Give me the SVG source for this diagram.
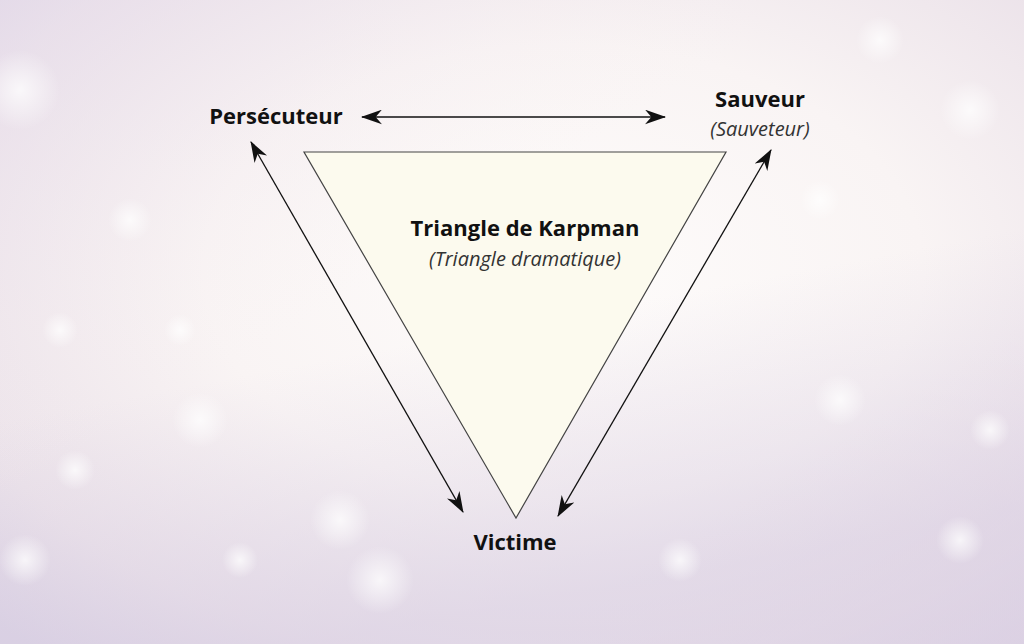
<svg xmlns="http://www.w3.org/2000/svg" width="1024" height="644" viewBox="0 0 1024 644">
<defs>
<radialGradient id="bg" cx="0.55" cy="0.42" r="0.78">
<stop offset="0" stop-color="#fefcfb"/>
<stop offset="0.45" stop-color="#f9f4f4"/>
<stop offset="0.8" stop-color="#ece3ea"/>
<stop offset="1" stop-color="#dcd3e4"/>
</radialGradient>
<linearGradient id="tint" x1="0" y1="0" x2="1" y2="1">
<stop offset="0" stop-color="#e4daea" stop-opacity="0.6"/>
<stop offset="0.4" stop-color="#f6eef0" stop-opacity="0"/>
<stop offset="0.75" stop-color="#f3e6ea" stop-opacity="0"/>
<stop offset="1" stop-color="#e3d6e4" stop-opacity="0.6"/>
</linearGradient>
<linearGradient id="tint2" x1="0" y1="0" x2="0.3" y2="1">
<stop offset="0.6" stop-color="#d6cce2" stop-opacity="0"/>
<stop offset="1" stop-color="#d6cce2" stop-opacity="0.55"/>
</linearGradient>
<radialGradient id="bokeh">
<stop offset="0" stop-color="#ffffff" stop-opacity="0.75"/>
<stop offset="1" stop-color="#ffffff" stop-opacity="0"/>
</radialGradient>
<marker id="ah" viewBox="0 0 20 14" refX="19" refY="7" markerWidth="21" markerHeight="15" markerUnits="userSpaceOnUse" orient="auto-start-reverse">
<path d="M0,0 L20,7 L0,14 L6,7 Z" fill="#111"/>
</marker>
<style>
.lbl{font-family:"Open Sans","Noto Sans","Liberation Sans",sans-serif;fill:#111;}
.b{font-weight:bold;font-size:22px;}
.i{font-style:italic;font-size:20px;fill:#333;}
.conn{stroke:#111;stroke-width:1.3;fill:none;marker-start:url(#ah);marker-end:url(#ah);}
</style>
</defs>
<rect width="1024" height="644" fill="url(#bg)"/>
<rect width="1024" height="644" fill="url(#tint)"/>
<rect width="1024" height="644" fill="url(#tint2)"/>
<g id="background-bokeh" fill="url(#bokeh)">
<circle cx="20" cy="90" r="40"/>
<circle cx="130" cy="220" r="22"/>
<circle cx="60" cy="330" r="18"/>
<circle cx="180" cy="330" r="16"/>
<circle cx="75" cy="470" r="20"/>
<circle cx="25" cy="560" r="26"/>
<circle cx="200" cy="420" r="28"/>
<circle cx="340" cy="520" r="30"/>
<circle cx="380" cy="580" r="34"/>
<circle cx="970" cy="110" r="30"/>
<circle cx="880" cy="40" r="24"/>
<circle cx="840" cy="400" r="26"/>
<circle cx="990" cy="430" r="20"/>
<circle cx="960" cy="540" r="24"/>
<circle cx="820" cy="200" r="20"/>
<circle cx="680" cy="560" r="22"/>
<circle cx="240" cy="560" r="18"/>
</g>
<g id="triangle">
<polygon points="304,152 726,152 516,518" fill="#fcfaee" stroke="#444" stroke-width="1.2"/>
<text class="lbl b" x="525" y="236" text-anchor="middle">Triangle de Karpman</text>
<text class="lbl i" x="525" y="266" text-anchor="middle">(Triangle dramatique)</text>
</g>
<g id="persecuteur">
<text class="lbl b" x="276" y="124" text-anchor="middle">Persécuteur</text>
</g>
<g id="sauveur">
<text class="lbl b" x="760" y="107" text-anchor="middle">Sauveur</text>
<text class="lbl i" x="760" y="136" text-anchor="middle">(Sauveteur)</text>
</g>
<g id="victime">
<text class="lbl b" x="515" y="550" text-anchor="middle">Victime</text>
</g>
<g id="connectors">
<line class="conn" x1="362" y1="117" x2="665" y2="117"/>
<line class="conn" x1="251" y1="142" x2="463" y2="512"/>
<line class="conn" x1="771" y1="150" x2="558" y2="516"/>
</g>
</svg>
